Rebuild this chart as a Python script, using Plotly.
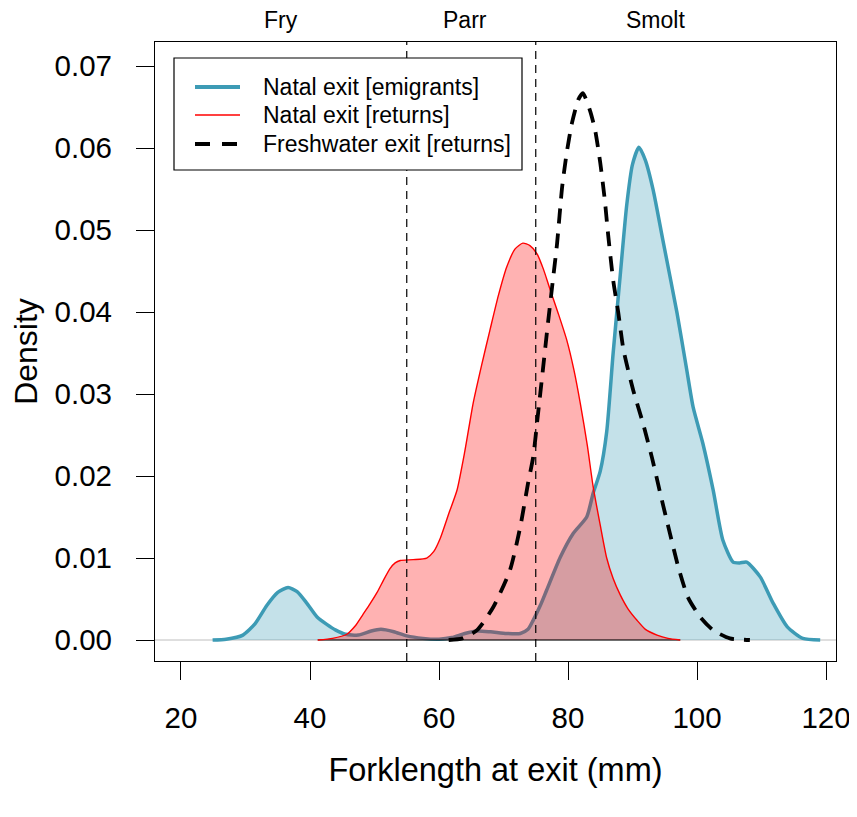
import plotly.graph_objects as go

# ---------------- data ----------------
emig_x = [24.9, 27.0, 29.6, 31.5, 33.3, 35.0, 36.6, 38.0, 39.5, 41.1, 42.6, 44.0, 45.5,
          47.5, 49.5, 51.0, 53.0, 55.0, 57.5, 60.0, 62.0, 64.0, 66.0, 68.0, 70.5, 72.6,
          73.8, 74.6, 75.7, 76.7, 78.8, 80.8, 82.9, 83.9, 85.0, 86.0, 87.0, 88.1, 89.1,
          90.0, 91.0, 92.0, 93.2, 94.7, 96.9, 98.4, 99.4, 100.9, 102.5, 104.0, 105.6,
          106.6, 107.7, 109.8, 111.8, 114.0, 116.4, 119.1]
emig_y = [0.0, 0.0001, 0.0006, 0.0020, 0.0042, 0.0058, 0.0064, 0.0059, 0.0045, 0.0028,
          0.0019, 0.0012, 0.0007, 0.0006, 0.0011, 0.0013, 0.0010, 0.0005, 0.0002, 0.0001,
          0.0003, 0.0008, 0.0011, 0.0010, 0.0008, 0.0008, 0.0013, 0.0024, 0.0042, 0.0061,
          0.0101, 0.0130, 0.0150, 0.0179, 0.0206, 0.0254, 0.0350, 0.0445, 0.0530, 0.0580,
          0.0601, 0.0585, 0.0549, 0.0488, 0.0399, 0.0330, 0.0284, 0.0240, 0.0183, 0.0122,
          0.0095, 0.0094, 0.0095, 0.0077, 0.0045, 0.0016, 0.0002, 0.0]

ret_x = [41.2, 43.5, 45.7, 47.0, 48.2, 49.3, 50.4, 51.4, 52.4, 53.2, 54.0, 56.0, 58.1,
         59.2, 60.2, 61.6, 62.8, 64.0, 65.3, 66.6, 67.9, 69.2, 70.5, 71.8, 73.0, 74.1,
         75.2, 76.2, 77.2, 78.5, 79.8, 80.9, 81.9, 83.0, 83.9, 85.0, 86.0, 87.0, 88.1,
         89.3, 90.7, 92.0, 93.8, 95.5, 97.4]
ret_y = [0.0, 0.0002, 0.0007, 0.0017, 0.0031, 0.0044, 0.0058, 0.0073, 0.0087, 0.0094,
         0.0097, 0.0098, 0.0100, 0.0108, 0.0124, 0.0156, 0.0183, 0.0230, 0.0289, 0.0335,
         0.0378, 0.0420, 0.0455, 0.0477, 0.0484, 0.0481, 0.0471, 0.0452, 0.0428, 0.0398,
         0.0366, 0.0330, 0.0289, 0.0237, 0.0187, 0.0140, 0.0100, 0.0075, 0.0055, 0.0038,
         0.0024, 0.0013, 0.0006, 0.0002, 0.0]

fw_x = [61.5, 63.6, 65.9, 68.4, 71.0, 72.6, 73.8, 74.6, 75.3, 76.1, 76.9, 77.6, 78.3,
        79.1, 79.8, 80.6, 81.6, 82.3, 83.4, 84.2, 85.0, 85.7, 86.2, 87.0, 87.8, 88.6,
        90.1, 91.6, 93.0, 94.3, 95.8, 97.1, 98.6, 100.5, 102.5, 105.1, 108.2]
fw_y = [0.0, 0.0002, 0.0012, 0.0040, 0.0085, 0.0138, 0.0191, 0.0223, 0.0272, 0.0329,
        0.0387, 0.0435, 0.0483, 0.0553, 0.0594, 0.0630, 0.0659, 0.0667, 0.0646, 0.0622,
        0.0582, 0.0537, 0.0496, 0.0439, 0.0399, 0.0354, 0.0305, 0.0265, 0.0223, 0.0179,
        0.0130, 0.0089, 0.0052, 0.0028, 0.0012, 0.0002, 0.0]

stage_breaks = [55, 75]
stage_labels = ["Fry", "Parr", "Smolt"]
stage_label_x = [35.5, 64.0, 93.5]

x_ticks = [20, 40, 60, 80, 100, 120]
y_ticks = [0.00, 0.01, 0.02, 0.03, 0.04, 0.05, 0.06, 0.07]

legend_names = ["Natal exit [emigrants]", "Natal exit [returns]", "Freshwater exit [returns]"]

# ---------------- styling ----------------
FONT = "Liberation Sans, Arial, sans-serif"
TEAL = "#3D9BB5"
TEAL_FILL = "rgba(61,155,181,0.30)"
RED = "#FF0000"
RED_FILL = "rgba(255,0,0,0.30)"

OFF = 8                      # default page body margin
W, H = 857 - OFF, 817 - OFF
ML, MR, MT, MB = 155 - OFF, 21, 42 - OFF, 156
PW, PH = W - ML - MR, H - MT - MB


def px_x(p):                 # reference-page pixel -> paper fraction
    return (p - OFF - ML) / PW


def px_y(p):
    return (H - MB - (p - OFF)) / PH


fig = go.Figure()

fig.add_shape(type="line", xref="paper", yref="y", x0=0, x1=1, y0=0, y1=0,
              line=dict(color="#BEBEBE", width=1), layer="below")

fig.add_trace(go.Scatter(x=emig_x, y=emig_y, mode="lines", fill="tozeroy",
                         fillcolor=TEAL_FILL, line=dict(color=TEAL, width=3.5, shape="spline", smoothing=0.6),
                         name=legend_names[0], showlegend=False))
fig.add_trace(go.Scatter(x=ret_x, y=ret_y, mode="lines", fill="tozeroy",
                         fillcolor=RED_FILL, line=dict(color="rgba(0,0,0,0)", width=0, shape="spline", smoothing=0.6),
                         name=legend_names[1], showlegend=False, hoverinfo="skip"))
fig.add_trace(go.Scatter(x=[ret_x[0], ret_x[-1]], y=[0, 0], mode="lines",
                         line=dict(color="black", width=1.2), showlegend=False, hoverinfo="skip"))
fig.add_trace(go.Scatter(x=ret_x, y=ret_y, mode="lines",
                         line=dict(color=RED, width=1.4, shape="spline", smoothing=0.6),
                         name=legend_names[1], showlegend=False))
fig.add_trace(go.Scatter(x=fw_x, y=fw_y, mode="lines",
                         line=dict(color="black", width=3.8, dash="15px,10px", shape="spline", smoothing=0.6),
                         name=legend_names[2], showlegend=False))

for b in stage_breaks:
    fig.add_shape(type="line", xref="x", yref="paper", x0=b, x1=b, y0=0, y1=1,
                  line=dict(color="black", width=1.2, dash="8px,6px"), layer="above")

for lab, lx in zip(stage_labels, stage_label_x):
    fig.add_annotation(x=lx, xref="x", y=px_y(20), yref="paper", text=lab, showarrow=False,
                       xanchor="center", yanchor="middle", font=dict(family=FONT, size=23, color="black"))

fig.add_shape(type="rect", xref="paper", yref="paper",
              x0=px_x(174), x1=px_x(522), y0=px_y(170), y1=px_y(58),
              line=dict(color="black", width=1.2), fillcolor="white", layer="above")
rows = [87, 115, 144]
styles = [dict(color=TEAL, width=4), dict(color=RED, width=1.4),
          dict(color="black", width=4, dash="15px,12px")]
for name, ry, st in zip(legend_names, rows, styles):
    fig.add_shape(type="line", xref="paper", yref="paper",
                  x0=px_x(195), x1=px_x(240), y0=px_y(ry), y1=px_y(ry), line=st, layer="above")
    fig.add_annotation(x=px_x(261), xref="paper", y=px_y(ry), yref="paper", text=name,
                       showarrow=False, xanchor="left", yanchor="middle",
                       font=dict(family=FONT, size=23, color="black"))

axis_common = dict(showline=True, linecolor="black", linewidth=1.2, mirror=True,
                   ticks="outside", ticklen=18, tickwidth=1.2, tickcolor="black",
                   showgrid=False, zeroline=False,
                   tickfont=dict(family=FONT, size=29.5, color="black"))

fig.update_layout(
    width=W, height=H,
    margin=dict(l=ML, r=MR, t=MT, b=MB, autoexpand=False),
    paper_bgcolor="white", plot_bgcolor="white",
    font=dict(family=FONT, color="black"),
    showlegend=False,
    xaxis=dict(range=[15.97, 121.55], tickvals=x_ticks, ticklabelstandoff=12,
               title=dict(text="Forklength at exit (mm)", font=dict(family=FONT, size=32.5), standoff=25),
               **axis_common),
    yaxis=dict(range=[-0.00256, 0.07293], tickvals=y_ticks, tickformat=".2f", ticklabelstandoff=18,
               title=dict(text="Density", font=dict(family=FONT, size=32), standoff=12),
               **axis_common),
)

fig.write_html("out.html")
